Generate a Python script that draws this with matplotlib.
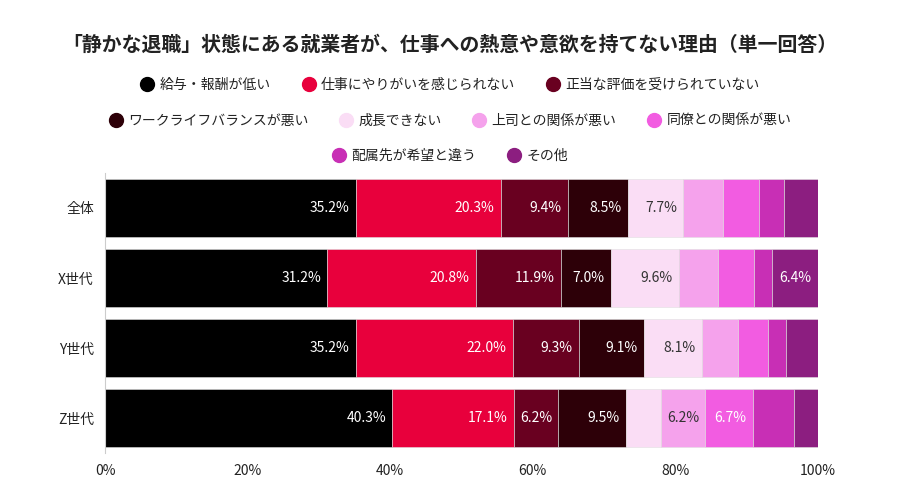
import matplotlib
matplotlib.use("Agg")
import matplotlib.pyplot as plt
from matplotlib.lines import Line2D
import numpy as np

plt.rcParams['font.family'] = ['Noto Sans CJK JP', 'DejaVu Sans']

title = "「静かな退職」状態にある就業者が、仕事への熱意や意欲を持てない理由（単一回答）"
groups = ["全体", "X世代", "Y世代", "Z世代"]
reasons = ["給与・報酬が低い", "仕事にやりがいを感じられない", "正当な評価を受けられていない",
           "ワークライフバランスが悪い", "成長できない", "上司との関係が悪い",
           "同僚との関係が悪い", "配属先が希望と違う", "その他"]
colors = ["#000000", "#E8003C", "#690020", "#2D0008", "#FADDF5",
          "#F5A2EC", "#F25CE1", "#C82FB5", "#8C1E80"]
text_colors = ["white", "white", "white", "white", "#333333",
               "#333333", "white", "white", "white"]

v_all = [35.2, 20.3, 9.4, 8.5, 7.7, 5.6, 5.0, 3.5, 4.8]
v_x = [31.2, 20.8, 11.9, 7.0, 9.6, 5.5, 5.0, 2.6, 6.4]
v_y = [35.2, 22.0, 9.3, 9.1, 8.1, 5.1, 4.2, 2.5, 4.5]
v_z = [40.3, 17.1, 6.2, 9.5, 4.9, 6.2, 6.7, 5.7, 3.4]
values = np.array([v_all, v_x, v_y, v_z])

xticks = [0, 20, 40, 60, 80, 100]
xticklabels = ["0%", "20%", "40%", "60%", "80%", "100%"]

fig = plt.figure(figsize=(9, 5), dpi=100)
ax = fig.add_axes([0.1167, 0.094, 0.7922, 0.56])

ypos = np.arange(len(groups))
left = np.zeros(len(groups))
for j, r in enumerate(reasons):
    w = values[:, j]
    ax.barh(ypos, w, left=left, height=0.83, color=colors[j],
            edgecolor='#e0e0e0', linewidth=0.4, label=r)
    for i in range(len(groups)):
        if w[i] >= 6.0:
            ax.text(left[i] + w[i] - 0.9, ypos[i], f"{w[i]:.1f}%",
                    ha='right', va='center', color=text_colors[j], fontsize=10)
    left = left + w

ax.set_xlim(0, 100)
ax.set_ylim(len(groups) - 0.5, -0.5)
ax.set_yticks(ypos)
ax.set_yticklabels(groups, fontsize=10, color='#222222')
ax.set_xticks(xticks)
ax.set_xticklabels(xticklabels, fontsize=10, color='#222222')
ax.tick_params(axis='both', length=0, pad=8)
for s in ['top', 'right', 'bottom']:
    ax.spines[s].set_visible(False)
ax.spines['left'].set_color('#cccccc')
ax.spines['left'].set_linewidth(0.8)

fig.text(0.5, 0.912, title, ha='center', va='center', fontsize=14.3, fontweight='bold', color='#222222')

def handles(idx):
    return [Line2D([0], [0], marker='o', color='none', markerfacecolor=colors[k],
                   markeredgecolor=colors[k], markersize=10) for k in idx]

rows = [[0, 1, 2], [3, 4, 5, 6], [7, 8]]
ys = [0.831, 0.759, 0.689]
for idx, yy in zip(rows, ys):
    fig.legend(handles(idx), [reasons[k] for k in idx], loc='center',
               bbox_to_anchor=(0.5, yy), ncol=len(idx), frameon=False,
               fontsize=10, handlelength=1.0, handletextpad=0.4,
               columnspacing=2.2, labelcolor='#222222')

fig.savefig("out.png", dpi=100)
